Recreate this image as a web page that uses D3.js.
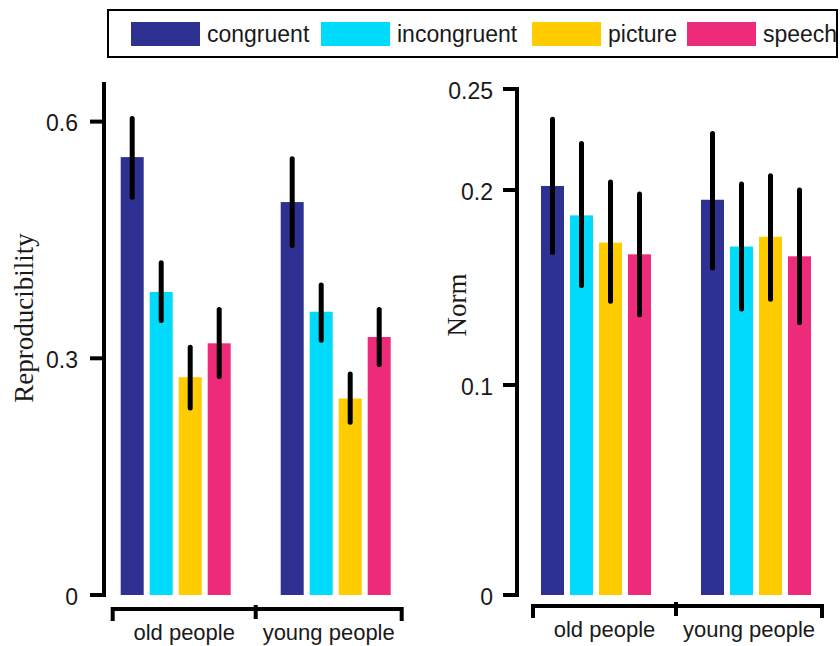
<!DOCTYPE html>
<html>
<head>
<meta charset="utf-8">
<script src="https://cdn.jsdelivr.net/npm/d3@7"></script>
<style>
    body { margin: 0; background: #fff; }
    svg { display: block; }
    .sans { font-family: "Liberation Sans", Arial, sans-serif; fill: #1a1a1a; }
    .serif { font-family: "Liberation Serif", "Times New Roman", serif; fill: #1a1a1a; }
</style>
</head>
<body>
<svg id="chart" width="840" height="646"></svg>
<script>
const groups = ["old people", "young people"];
const conditions = ["congruent", "incongruent", "picture", "speech"];
const colors = ["#2E3192", "#00DAFB", "#FFCC00", "#EE2A7B"];

// Reproducibility: mean, lower and upper end of error bar, per group (rows) and condition (cols)
const reproMean = [[0.555, 0.384, 0.276, 0.319], [0.498, 0.359, 0.249, 0.327]];
const reproLow = [[0.504, 0.348, 0.237, 0.277], [0.443, 0.323, 0.219, 0.292]];
const reproHigh = [[0.604, 0.421, 0.314, 0.362], [0.553, 0.393, 0.280, 0.362]];
const reproTicks = [0, 0.3, 0.6];

// Norm
const normMean = [[0.202, 0.187, 0.173, 0.167], [0.195, 0.171, 0.176, 0.166]];
const normLow = [[0.168, 0.151, 0.143, 0.136], [0.160, 0.139, 0.144, 0.132]];
const normHigh = [[0.235, 0.223, 0.204, 0.198], [0.228, 0.203, 0.207, 0.200]];
const normTicks = [0, 0.1, 0.2, 0.25];

const svg = d3.select("#chart");

const baseY = 595;

const leftConfig = {
    axisX: 104,
    barStart: 120.7,
    axisTop: 82,
    bracketY: 609,
    labelY: 640,
    title: "Reproducibility",
    titleX: 24,
    titleY: 318,
    tickFormat: function(d) { return d === 0 ? "0" : d3.format(".1f")(d); },
    labelGap: 12,
    y: d3.scaleLinear().domain([0, 0.65]).range([baseY, baseY - 0.65 * 789])
};

const rightConfig = {
    axisX: 517,
    barStart: 541,
    axisTop: null,
    bracketY: 606,
    labelY: 637,
    title: "Norm",
    titleX: 457,
    titleY: 305,
    tickFormat: function(d) { return d === 0 ? "0" : String(d); },
    labelGap: 10,
    // the printed axis is not evenly spaced, so use a piecewise scale
    y: d3.scaleLinear().domain([0, 0.1, 0.2, 0.25]).range([baseY, 385, 190, 89])
};

drawPanel(leftConfig, reproMean, reproLow, reproHigh, reproTicks);
drawPanel(rightConfig, normMean, normLow, normHigh, normTicks);
drawLegend();

function drawPanel(cfg, means, lows, highs, ticks) {
    const g = svg.append("g");
    const y = cfg.y;

    const x0 = d3.scaleBand()
        .domain(groups)
        .range([cfg.barStart, cfg.barStart + 320]);

    const x1 = d3.scaleBand()
        .domain(conditions)
        .range([0, 110])
        .paddingInner(6 / 29)
        .paddingOuter(0);

    groups.forEach(function(group, gi) {
        const gg = g.append("g")
            .attr("transform", "translate(" + x0(group) + ",0)");

        gg.selectAll("rect")
            .data(conditions)
            .join("rect")
            .attr("x", function(c) { return x1(c); })
            .attr("y", function(c, i) { return y(means[gi][i]); })
            .attr("width", x1.bandwidth())
            .attr("height", function(c, i) { return y(0) - y(means[gi][i]); })
            .attr("fill", function(c, i) { return colors[i]; });

        gg.selectAll("line.err")
            .data(conditions)
            .join("line")
            .attr("class", "err")
            .attr("x1", function(c) { return x1(c) + x1.bandwidth() / 2; })
            .attr("x2", function(c) { return x1(c) + x1.bandwidth() / 2; })
            .attr("y1", function(c, i) { return y(lows[gi][i]); })
            .attr("y2", function(c, i) { return y(highs[gi][i]); })
            .attr("stroke", "#000")
            .attr("stroke-width", 5)
            .attr("stroke-linecap", "round");
    });

    // y axis
    const top = cfg.axisTop !== null ? cfg.axisTop : y(ticks[ticks.length - 1]);
    g.append("line")
        .attr("x1", cfg.axisX).attr("x2", cfg.axisX)
        .attr("y1", top).attr("y2", y(0) + 2)
        .attr("stroke", "#000").attr("stroke-width", 4);

    g.selectAll("line.tick")
        .data(ticks)
        .join("line")
        .attr("class", "tick")
        .attr("x1", cfg.axisX - 14).attr("x2", cfg.axisX + 2)
        .attr("y1", function(d) { return y(d); })
        .attr("y2", function(d) { return y(d); })
        .attr("stroke", "#000").attr("stroke-width", 4);

    g.selectAll("text.ticklabel")
        .data(ticks)
        .join("text")
        .attr("class", "ticklabel sans")
        .attr("x", cfg.axisX - 14 - cfg.labelGap)
        .attr("y", function(d) { return y(d); })
        .attr("dy", "0.42em")
        .attr("text-anchor", "end")
        .style("font-size", "23px")
        .text(cfg.tickFormat);

    // y title
    g.append("text")
        .attr("class", "serif")
        .attr("transform", "translate(" + cfg.titleX + "," + cfg.titleY + ") rotate(-90)")
        .attr("text-anchor", "middle")
        .attr("dy", "0.35em")
        .style("font-size", "27px")
        .text(cfg.title);

    // group brackets
    const left = x0(groups[0]) - 8;
    const right = x0(groups[1]) + 110 + 11;
    const mid = (x0(groups[0]) + 110 + x0(groups[1])) / 2;
    const by = cfg.bracketY;

    g.append("path")
        .attr("d", "M" + left + "," + (by + 12) + "V" + by + "H" + right + "V" + (by + 12))
        .attr("fill", "none")
        .attr("stroke", "#000")
        .attr("stroke-width", 4);

    g.append("line")
        .attr("x1", mid).attr("x2", mid)
        .attr("y1", by - 4).attr("y2", by + 10)
        .attr("stroke", "#000").attr("stroke-width", 4);

    const centers = [(left + mid) / 2, (mid + right) / 2];
    g.selectAll("text.group")
        .data(groups)
        .join("text")
        .attr("class", "group sans")
        .attr("x", function(d, i) { return centers[i]; })
        .attr("y", cfg.labelY)
        .attr("text-anchor", "middle")
        .style("font-size", "22px")
        .text(function(d) { return d; });
}

function drawLegend() {
    const lg = svg.append("g");

    lg.append("rect")
        .attr("x", 108).attr("y", 10)
        .attr("width", 729).attr("height", 47)
        .attr("fill", "none")
        .attr("stroke", "#000")
        .attr("stroke-width", 2);

    const swatchX = [131, 321, 532, 687];

    const items = lg.selectAll("g.item")
        .data(conditions)
        .join("g")
        .attr("class", "item")
        .attr("transform", function(d, i) { return "translate(" + swatchX[i] + ",22)"; });

    items.append("rect")
        .attr("width", 69).attr("height", 24)
        .attr("fill", function(d, i) { return colors[i]; });

    items.append("text")
        .attr("class", "sans")
        .attr("x", 76)
        .attr("y", 12)
        .attr("dy", "0.36em")
        .style("font-size", "23px")
        .text(function(d) { return d; });
}
</script>
</body>
</html>
